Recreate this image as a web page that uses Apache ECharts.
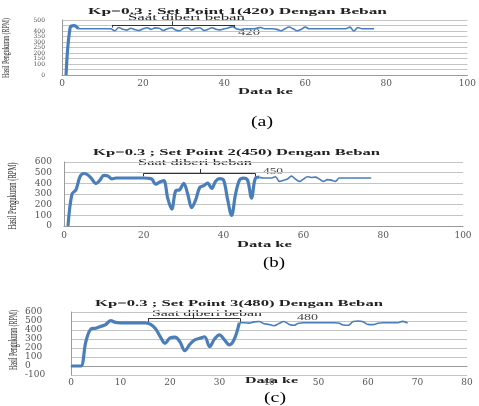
<!DOCTYPE html>
<html><head><meta charset="utf-8">
<script src="https://cdn.jsdelivr.net/npm/echarts@6/dist/echarts.min.js"></script>
<style>html,body{margin:0;padding:0;background:#fff}#c{width:479px;height:406px}</style>
</head><body><div id="c"></div>
<script>
// ---------- data ----------
const titleA = 'Kp=0.3 ; Set Point 1(420) Dengan Beban';
const titleB = 'Kp=0.3 ; Set Point 2(450) Dengan Beban';
const titleC = 'Kp=0.3 ; Set Point 3(480) Dengan Beban';
const yName = 'Hasil Pengukuran (RPM)';
const xName = 'Data ke';
const loadText = 'Saat diberi beban';
const setPointLabels = ['420', '450', '480'];
const panelLabels = ['(a)', '(b)', '(c)'];

// "Data ke" starting index of each run
const firstA = 1, firstB = 1, firstC = 0;
const rpmA = [0,430,448,422,420,420,420,420,420,420,420,420,402,432,415,408,425,412,405,420,
  430,415,428,425,405,420,430,410,402,425,430,410,425,430,405,415,430,415,410,420,
  428,440,420,412,420,420,420,425,432,420,420,420,415,402,420,436,420,402,415,435,
  420,420,420,420,420,420,420,420,420,420,435,400,432,420,420,420,420];
const rpmB = [0,300,340,462,492,478,440,398,430,475,468,442,450,450,450,450,450,450,450,450,
  448,440,392,412,425,260,158,330,340,400,300,172,245,360,378,402,352,420,445,430,
  250,100,300,432,448,430,262,450,458,450,450,450,462,418,428,440,468,440,418,440,
  462,455,458,440,418,435,430,418,450,450,450,450,450,450,450,450,450];
const rpmC = [0,0,0,270,410,420,440,460,505,485,480,480,480,480,480,480,465,420,330,252,
  312,320,270,170,240,290,308,325,215,300,345,290,235,300,480,480,476,490,495,470,
  462,448,472,494,465,452,476,480,480,480,480,480,480,480,478,455,452,495,500,492,
  462,460,475,480,480,480,480,496,478];
// last "Data ke" drawn with the thick stroke
const thickEndA = 4, thickEndB = 49, thickEndC = 34;
// load bracket: [from, to, level, end-tick value, middle x, middle-tick value]
const bracketA = [12.5, 42.4, 455, 432, 27.2, 488];
const bracketB = [19.9, 47.9, 494, 466, 34.1, 534];
const bracketC = [15.6, 34.1, 530, 492, 24.7, 567];
// axis ranges
const axisA = {xMax: 100, xStep: 20, yMin: 0, yMax: 500, yStep: 50};
const axisB = {xMax: 100, xStep: 20, yMin: 0, yMax: 600, yStep: 100};
const axisC = {xMax: 80, xStep: 10, yMin: -100, yMax: 600, yStep: 100};

// ---------- chart ----------
const BLUE = '#4a7ebb';
const pts = (arr, first) => arr.map((v, i) => [first + i, v]);
function split(arr, first, end) {
  const p = pts(arr, first);
  return [p.filter(d => d[0] <= end), p.filter(d => d[0] >= end)];
}
function bracketLines(b) {
  const [f, t, lv, te, m, mt] = b;
  return [
    [{coord: [f, lv]}, {coord: [t, lv]}],
    [{coord: [f, lv]}, {coord: [f, te]}],
    [{coord: [t, lv]}, {coord: [t, te]}],
    [{coord: [m, lv]}, {coord: [m, mt]}]
  ];
}
const grids = [
  {left: 62, top: 20, width: 408, height: 55},
  {left: 64, top: 162, width: 399, height: 64},
  {left: 71, top: 312, width: 396, height: 63}
];
const axes = [axisA, axisB, axisC];
const yLabel = [
  {fontSize: 6, lineHeight: 5, margin: 17, align: 'right'},
  {fontSize: 9, margin: 12, align: 'right'},
  {fontSize: 9, margin: 46, align: 'left'}
];
const xMargin = [4, 5, 3];
const xAxis = axes.map((a, i) => ({
  type: 'value', gridIndex: i, min: 0, max: a.xMax, interval: a.xStep,
  axisLine: {show: true, onZero: true, lineStyle: {color: '#9a9a9a'}},
  axisTick: {show: false}, splitLine: {show: false},
  axisLabel: {fontFamily: 'DejaVu Serif', fontSize: 9, color: '#555', margin: xMargin[i],
    showMinLabel: true, showMaxLabel: true, hideOverlap: false}
}));
const yAxis = axes.map((a, i) => ({
  type: 'value', gridIndex: i, min: a.yMin, max: a.yMax, interval: a.yStep,
  axisLine: {show: true, lineStyle: {color: '#9a9a9a'}},
  axisTick: {show: false},
  splitLine: {show: true, lineStyle: {color: '#c4c4c4', width: 1}},
  axisLabel: Object.assign({fontFamily: 'DejaVu Serif', color: '#555',
    showMinLabel: true, showMaxLabel: true, hideOverlap: false}, yLabel[i])
}));
const runs = [[rpmA, firstA, thickEndA, bracketA], [rpmB, firstB, thickEndB, bracketB], [rpmC, firstC, thickEndC, bracketC]];
const series = [];
runs.forEach(([arr, first, end, br], i) => {
  const [thick, thin] = split(arr, first, end);
  series.push({type: 'line', xAxisIndex: i, yAxisIndex: i, data: thick, smooth: 0.35, symbol: 'none',
    lineStyle: {color: BLUE, width: 3.2}, animation: false, silent: true});
  series.push({type: 'line', xAxisIndex: i, yAxisIndex: i, data: thin, smooth: 0.35, symbol: 'none',
    lineStyle: {color: BLUE, width: 1.6}, animation: false, silent: true,
    markLine: {symbol: 'none', silent: true, animation: false, label: {show: false},
      lineStyle: {color: '#333', type: 'solid', width: 1}, data: bracketLines(br)}});
});

// stretched text helper (the reference text is horizontally stretched)
const mctx = document.createElement('canvas').getContext('2d');
function fitText(text, x, y, width, size, weight, color, rotation) {
  const font = `${weight} ${size}px "Liberation Serif"`;
  mctx.font = font;
  const w = mctx.measureText(text).width;
  return {type: 'text', x, y, rotation: rotation || 0, scaleX: width / w, silent: true,
    style: {text, font, fill: color, align: 'center', verticalAlign: 'middle'}};
}
const TXT = '#222';
const graphic = [
  fitText(titleA, 237.5, 11.2, 299, 9, 'bold', TXT),
  fitText(titleB, 236.5, 152.7, 287, 9, 'bold', TXT),
  fitText(titleC, 239, 304, 288, 9, 'bold', TXT),
  fitText(xName, 265.5, 91.7, 55, 9, 'bold', TXT),
  fitText(xName, 264.5, 244.3, 55, 9, 'bold', TXT),
  fitText(xName, 271.5, 381, 53, 9, 'bold', TXT),
  fitText(loadText, 186.5, 18, 117, 8, 'normal', TXT),
  fitText(loadText, 195, 163, 114, 8, 'normal', TXT),
  fitText(loadText, 207, 313.5, 110, 8, 'normal', TXT),
  fitText(setPointLabels[0], 249, 33.3, 22, 8, 'normal', '#444'),
  fitText(setPointLabels[1], 273, 172.3, 20, 8, 'normal', '#444'),
  fitText(setPointLabels[2], 307.5, 318.3, 21, 8, 'normal', '#444'),
  fitText(yName, 6.5, 48, 60, 11, 'normal', TXT, Math.PI / 2),
  fitText(yName, 13, 196, 67, 13, 'normal', TXT, Math.PI / 2),
  fitText(yName, 14, 340, 60, 13, 'normal', TXT, Math.PI / 2),
  fitText(panelLabels[0], 262, 122, 22, 14, 'normal', '#000'),
  fitText(panelLabels[1], 274, 263.3, 22, 14, 'normal', '#000'),
  fitText(panelLabels[2], 275, 398, 22, 14, 'normal', '#000')
];

const chart = echarts.init(document.getElementById('c'), null, {renderer: 'canvas'});
chart.setOption({
  animation: false,
  backgroundColor: '#fff',
  grid: grids,
  xAxis, yAxis, series, graphic
});
</script></body></html>
